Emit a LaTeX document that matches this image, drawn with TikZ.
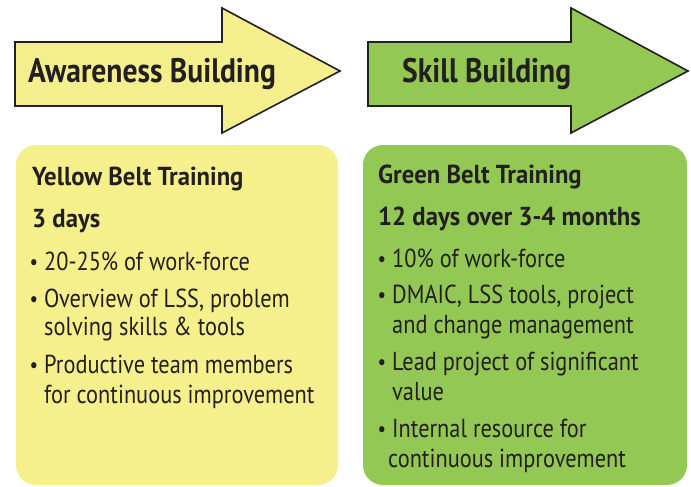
\documentclass[tikz,border=0pt]{standalone}
\usepackage{fontspec}
\setmainfont{PT Sans}[FakeStretch=0.86]
\newfontfamily\titlefam{PT Sans}[FakeStretch=0.87]
\newfontfamily\headfam{PT Sans}[FakeStretch=0.95]
\definecolor{ink}{HTML}{231F20}
\definecolor{arrowyellow}{HTML}{F4EF8C}
\definecolor{boxyellow}{HTML}{F5F08B}
\definecolor{leafgreen}{HTML}{92C853}
\tikzset{
  bigarrow/.style={draw=ink, line width=1.6pt, line join=miter},
  titletext/.style={anchor=base west, inner sep=0pt, font=\titlefam\fontsize{34}{38}\selectfont\bfseries, text=ink},
  headtext/.style={anchor=base west, inner sep=0pt, font=\headfam\fontsize{26}{30}\selectfont\bfseries, text=ink},
  bodytext/.style={anchor=base west, inner sep=0pt, font=\fontsize{26}{30}\selectfont, text=ink},
  bul/.style={anchor=base, inner sep=0pt, font=\fontsize{22}{26}\selectfont, text=ink},
  panel/.style={rounded corners=20pt}
}
\begin{document}
\begin{tikzpicture}[x=1pt,y=-1pt]
\useasboundingbox (0,0) rectangle (691,487);
% arrows
\draw[bigarrow, fill=arrowyellow] (15,42) -- (222,42) -- (222,8) -- (340,71) -- (222,133) -- (222,106) -- (15,106) -- cycle;
\draw[bigarrow, fill=leafgreen] (368,42) -- (571,42) -- (571,8) -- (688,71) -- (571,133) -- (571,106) -- (368,106) -- cycle;
\node[titletext] (aw) at (28,82) {Awareness Building};
\node[titletext] (sk) at (402,82) {Skill Building};
% panels
\fill[boxyellow, panel] (16,145) rectangle (338,485);
\fill[leafgreen, panel] (363,145) rectangle (687,485);
% yellow panel text
\node[headtext] (yh1) at (32,185) {Yellow Belt Training};
\node[headtext] (yh2) at (32,227) {3 days};
\node[bul] (yb1) at (34,269) {•};
\node[bodytext] (y1a) at (44,270) {20-25\% of work-force};
\node[bul] (yb2) at (34,306) {•};
\node[bodytext] (y2a) at (44,307) {Overview of LSS, problem};
\node[bodytext] (y2b) at (44,335) {solving skills \& tools};
\node[bul] (yb3) at (34,372) {•};
\node[bodytext] (y3a) at (44,373) {Productive team members};
\node[bodytext] (y3b) at (44,403) {for continuous improvement};
% green panel text
\node[headtext] (gh1) at (378,183) {Green Belt Training};
\node[headtext] (gh2) at (378,225) {12 days over 3-4 months};
\node[bul] (gb1) at (382,266) {•};
\node[bodytext] (g1a) at (392,267) {10\% of work-force};
\node[bul] (gb2) at (382,302) {•};
\node[bodytext] (g2a) at (392,303) {DMAIC, LSS tools, project};
\node[bodytext] (g2b) at (392,333) {and change management};
\node[bul] (gb3) at (382,369) {•};
\node[bodytext] (g3a) at (392,370) {Lead project of significant};
\node[bodytext] (g3b) at (392,400) {value};
\node[bul] (gb4) at (382,436) {•};
\node[bodytext] (g4a) at (392,437) {Internal resource for};
\node[bodytext] (g4b) at (388,467) {continuous improvement};
\end{tikzpicture}
\end{document}
